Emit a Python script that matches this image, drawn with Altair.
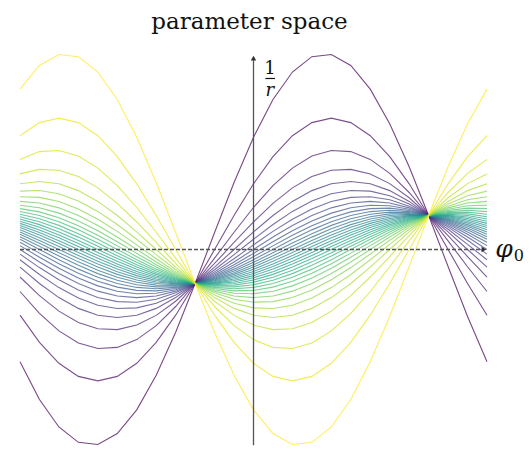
import math
import numpy as np
import pandas as pd
import altair as alt

# Hough-style parameter space: every hit on one circular track through the
# origin gives a curve 1/r(phi0); all curves cross at the track's (phi0*, 1/r*).
track_phi_deg = 135.0          # phi0* of the true track
track_inv_r = 1.0              # 1/r* of the true track
# angular offset of each hit from phi0* (degrees), one curve per hit
hit_offsets_deg = [10, 15, 20, 25, 30, 35, 40, 45, 50, 55, 60, 65, 70, 75, 80,
                   85, 90, 95, 100, 105, 110, 115, 120, 125, 130, 135, 140,
                   145, 150, 155, 160, 165, 170]
# phi0 sampling grid (degrees)
phi0_grid_deg = list(range(-180, 181, 15))

rows = []
for a in hit_offsets_deg:
    theta = math.radians(track_phi_deg + a)
    for p in phi0_grid_deg:
        phi0 = math.radians(p)
        inv_r = track_inv_r * math.sin(theta - phi0) / math.sin(math.radians(a))
        rows.append({"phi0": phi0, "inv_r": inv_r, "hit": a})
curves = pd.DataFrame(rows)

x_dom = [-math.pi, math.pi]
y_dom = [-5.868, 6.015]
xs = alt.Scale(domain=x_dom, nice=False, zero=False)
ys = alt.Scale(domain=y_dom, nice=False, zero=False)

lines = alt.Chart(curves).mark_line(strokeWidth=1.1, opacity=0.72).encode(
    x=alt.X("phi0:Q", scale=xs, axis=None),
    y=alt.Y("inv_r:Q", scale=ys, axis=None),
    color=alt.Color("hit:Q", scale=alt.Scale(scheme="viridis"), legend=None),
    detail="hit:N",
    order="phi0:Q",
)

axis_grey = "#555555"

h_axis = pd.DataFrame({"x": [-math.pi], "x2": [3.08], "y": [0.0]})
v_axis = pd.DataFrame({"x": [0.0], "y": [-5.76], "y2": [5.6]})

h_line = alt.Chart(h_axis).mark_rule(
    color=axis_grey, strokeWidth=1.4, strokeDash=[4, 2]
).encode(x=alt.X("x:Q", scale=xs), x2="x2:Q", y=alt.Y("y:Q", scale=ys))

v_line = alt.Chart(v_axis).mark_rule(color=axis_grey, strokeWidth=1.3).encode(
    x=alt.X("x:Q", scale=xs), y=alt.Y("y:Q", scale=ys), y2="y2:Q"
)

arrow_r = alt.Chart(pd.DataFrame({"x": [3.1], "y": [0.0]})).mark_point(
    shape="triangle-right", filled=True, size=30, color="#333333", opacity=1
).encode(x=alt.X("x:Q", scale=xs), y=alt.Y("y:Q", scale=ys))

arrow_u = alt.Chart(pd.DataFrame({"x": [0.0], "y": [5.63]})).mark_point(
    shape="triangle-up", filled=True, size=30, color="#333333", opacity=1
).encode(x=alt.X("x:Q", scale=xs), y=alt.Y("y:Q", scale=ys))

serif = "DejaVu Serif"

phi_lbl = alt.Chart(pd.DataFrame({"x": [3.37], "y": [0.0], "t": ["φ"]})).mark_text(
    font=serif, fontSize=25, fontStyle="italic", color="#111111", baseline="middle"
).encode(x=alt.X("x:Q", scale=xs), y=alt.Y("y:Q", scale=ys), text="t:N")

sub_lbl = alt.Chart(pd.DataFrame({"x": [3.57], "y": [-0.2], "t": ["0"]})).mark_text(
    font=serif, fontSize=16, color="#111111", baseline="middle"
).encode(x=alt.X("x:Q", scale=xs), y=alt.Y("y:Q", scale=ys), text="t:N")

num_lbl = alt.Chart(pd.DataFrame({"x": [0.22], "y": [5.3], "t": ["1"]})).mark_text(
    font=serif, fontSize=18, color="#111111", baseline="middle"
).encode(x=alt.X("x:Q", scale=xs), y=alt.Y("y:Q", scale=ys), text="t:N")

frac_bar = alt.Chart(pd.DataFrame({"x": [0.16], "x2": [0.29], "y": [5.03]})).mark_rule(
    color="#111111", strokeWidth=1.2
).encode(x=alt.X("x:Q", scale=xs), x2="x2:Q", y=alt.Y("y:Q", scale=ys))

den_lbl = alt.Chart(pd.DataFrame({"x": [0.22], "y": [4.65], "t": ["r"]})).mark_text(
    font=serif, fontSize=18, fontStyle="italic", color="#111111", baseline="middle"
).encode(x=alt.X("x:Q", scale=xs), y=alt.Y("y:Q", scale=ys), text="t:N")

chart = alt.layer(
    lines, h_line, v_line, arrow_r, arrow_u, phi_lbl, sub_lbl, num_lbl, frac_bar, den_lbl
).properties(
    width=467,
    height=404,
    padding={"left": 20, "top": 45, "right": 42, "bottom": 0},
    autosize=alt.AutoSizeParams(type="none"),
    title=alt.TitleParams(
        "parameter space", font=serif, fontSize=23, fontWeight="normal",
        color="#111111", anchor="middle", offset=11, dx=-4
    ),
).configure(background="white").configure_view(strokeWidth=0)

chart.save("out.html", embed_options={"renderer": "svg", "actions": False})
